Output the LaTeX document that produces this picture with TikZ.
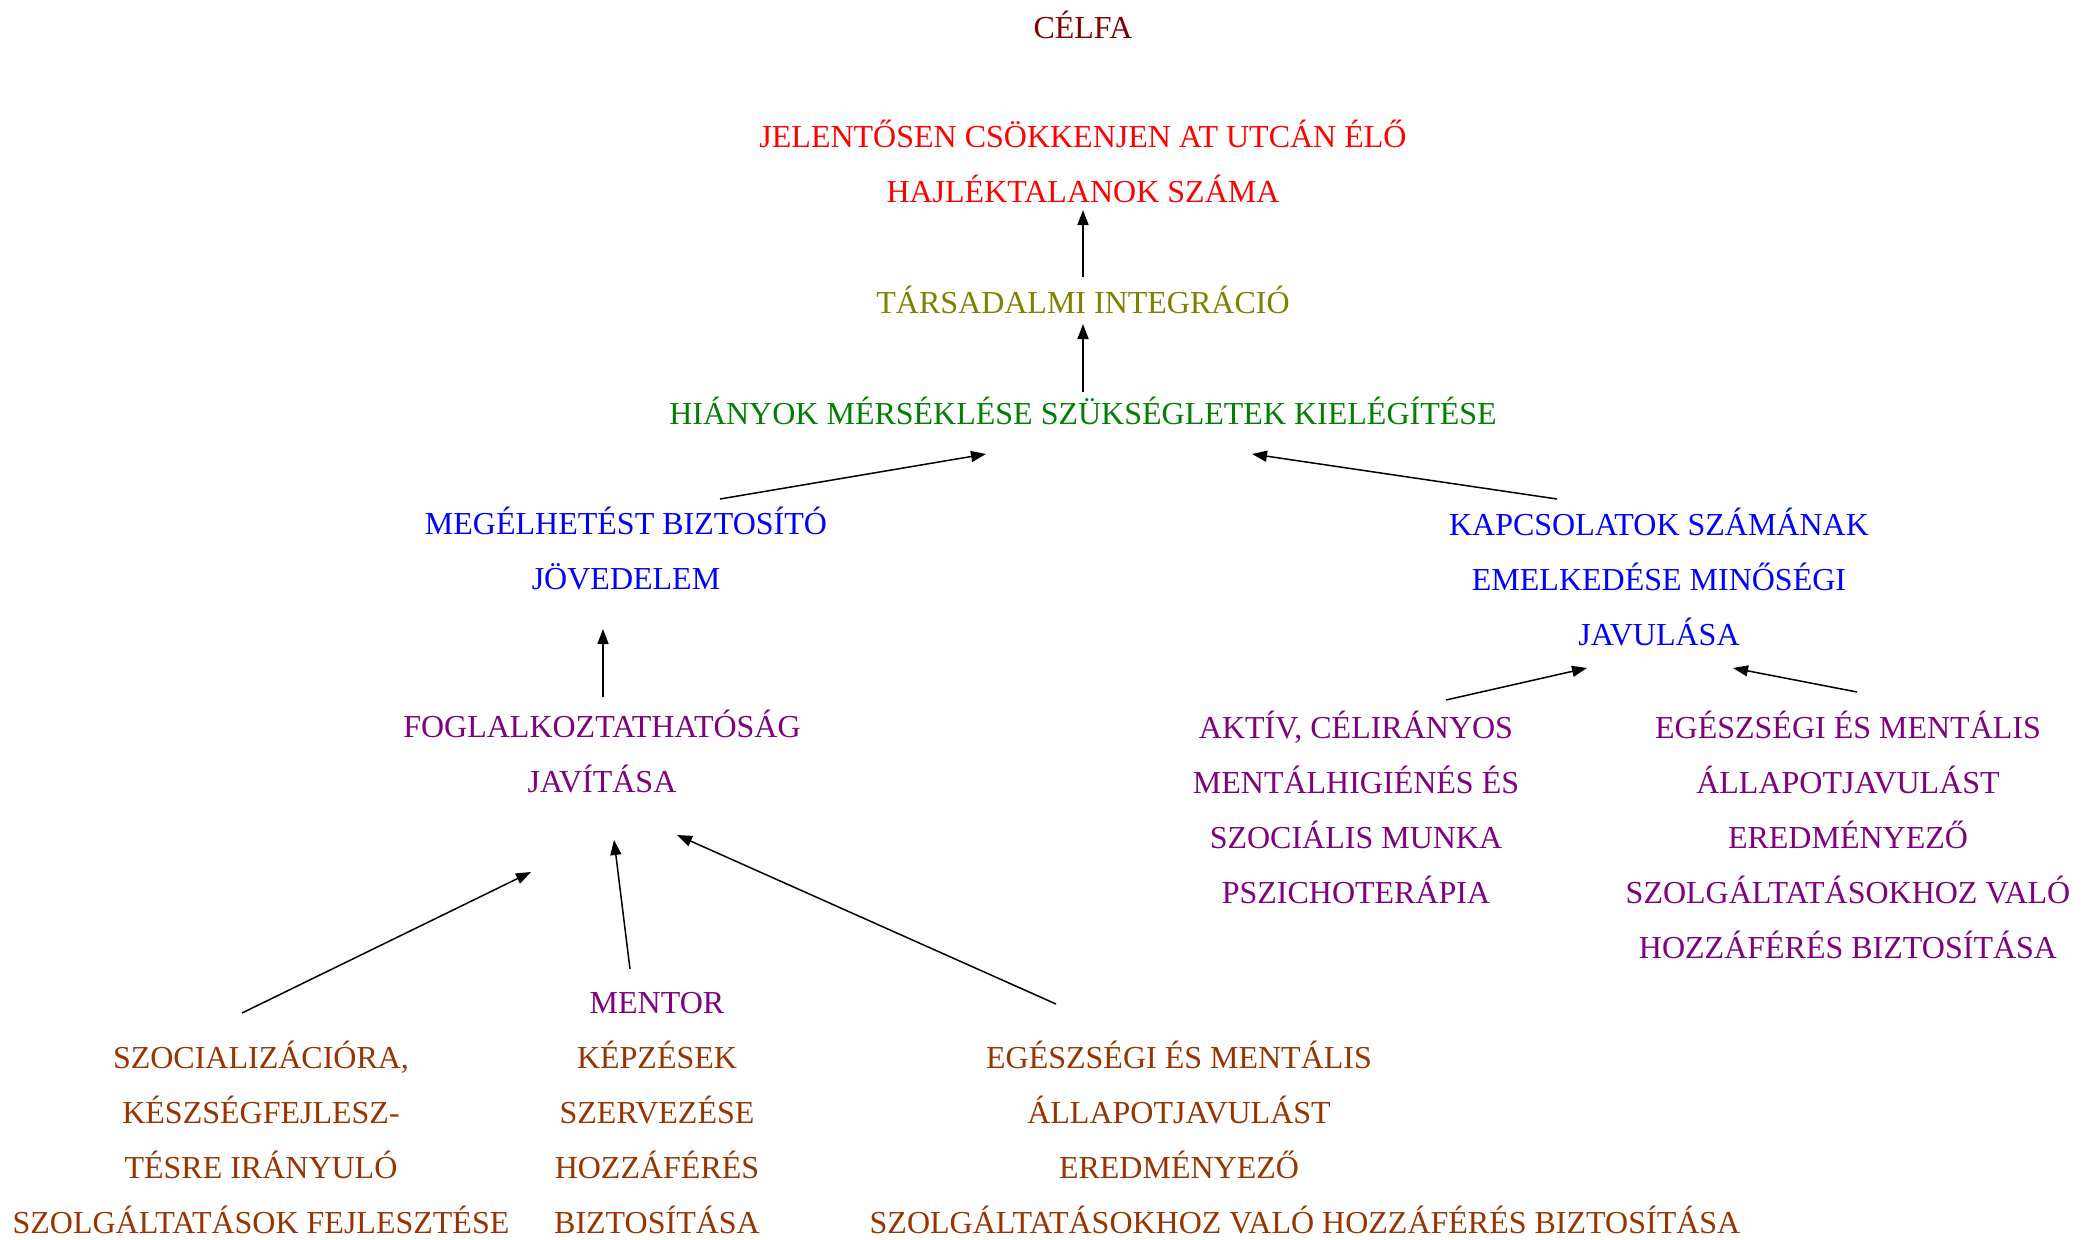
\documentclass[tikz,border=0pt]{standalone}
\usepackage{fontspec}
\setmainfont{Liberation Serif}
\usetikzlibrary{arrows.meta}
\definecolor{cmaroon}{RGB}{128,0,0}
\definecolor{cred}{RGB}{255,0,0}
\definecolor{colive}{RGB}{128,128,0}
\definecolor{cgreen}{RGB}{0,128,0}
\definecolor{cblue}{RGB}{0,0,255}
\definecolor{cpurple}{RGB}{128,0,128}
\definecolor{cbrown}{RGB}{153,51,0}
\begin{document}
\begin{tikzpicture}[x=1pt,y=-1pt,
    txt/.style={font=\fontsize{32}{55}\selectfont,inner sep=0pt,anchor=base,align=center},
    arr/.style={line width=1.5pt,-{Triangle[length=15pt,width=11pt]}}]
  \useasboundingbox (0,0) rectangle (2098,1239);
  % nodes placed at the baseline of their last line
  \node[txt,cmaroon] (celfa) at (1083,38) {CÉLFA};
  \node[txt,cred] (jel) at (1083,202) {JELENTŐSEN CSÖKKENJEN AT UTCÁN ÉLŐ\\HAJLÉKTALANOK SZÁMA};
  \node[txt,colive] (tars) at (1083,313) {TÁRSADALMI INTEGRÁCIÓ};
  \node[txt,cgreen] (hia) at (1083,424) {HIÁNYOK MÉRSÉKLÉSE SZÜKSÉGLETEK KIELÉGÍTÉSE};
  \node[txt,cblue] (meg) at (626,589) {MEGÉLHETÉST BIZTOSÍTÓ\\JÖVEDELEM};
  \node[txt,cblue] (kap) at (1659,645) {KAPCSOLATOK SZÁMÁNAK\\EMELKEDÉSE MINŐSÉGI\\JAVULÁSA};
  \node[txt,cpurple] (fog) at (602,792) {FOGLALKOZTATHATÓSÁG\\JAVÍTÁSA};
  \node[txt,cpurple] (akt) at (1356,903) {AKTÍV, CÉLIRÁNYOS\\MENTÁLHIGIÉNÉS ÉS\\SZOCIÁLIS MUNKA\\PSZICHOTERÁPIA};
  \node[txt,cpurple] (egr) at (1848,958) {EGÉSZSÉGI ÉS MENTÁLIS\\ÁLLAPOTJAVULÁST\\EREDMÉNYEZŐ\\SZOLGÁLTATÁSOKHOZ VALÓ\\HOZZÁFÉRÉS BIZTOSÍTÁSA};
  \node[txt,cpurple] (mentor) at (657,1013) {MENTOR};
  \node[txt,cbrown] (kepz) at (657,1233) {KÉPZÉSEK\\SZERVEZÉSE\\HOZZÁFÉRÉS\\BIZTOSÍTÁSA};
  \node[txt,cbrown] (szoc) at (261,1233) {SZOCIALIZÁCIÓRA,\\KÉSZSÉGFEJLESZ-\\TÉSRE IRÁNYULÓ\\SZOLGÁLTATÁSOK FEJLESZTÉSE};
  \node[txt,cbrown] (egb) at (1179,1178) {EGÉSZSÉGI ÉS MENTÁLIS\\ÁLLAPOTJAVULÁST\\EREDMÉNYEZŐ};
  \node[txt,cbrown] (egbl) at (1305,1233) {SZOLGÁLTATÁSOKHOZ VALÓ HOZZÁFÉRÉS BIZTOSÍTÁSA};
  % nyilak
  \draw[arr] ([shift={(0,-36)}]tars.base) -- ([shift={(0,8)}]jel.base);
  \draw[arr] ([shift={(0,-32)}]hia.base) -- ([shift={(0,11)}]tars.base);
  \draw[arr] ([shift={(94,-90)}]meg.base) -- ([shift={(-97,30)}]hia.base);
  \draw[arr] ([shift={(-102,-146)}]kap.base) -- ([shift={(169,30)}]hia.base);
  \draw[arr] ([shift={(1,-95)}]fog.base) -- ([shift={(-23,40)}]meg.base);
  \draw[arr] ([shift={(90,-203)}]akt.base) -- ([shift={(-72,23)}]kap.base);
  \draw[arr] ([shift={(9,-266)}]egr.base) -- ([shift={(74,23)}]kap.base);
  \draw[arr] ([shift={(-19,-220)}]szoc.base) -- ([shift={(-71,80)}]fog.base);
  \draw[arr] ([shift={(-27,-44)}]mentor.base) -- ([shift={(12,48)}]fog.base);
  \draw[arr] ([shift={(-123,-174)}]egb.base) -- ([shift={(75,43)}]fog.base);
\end{tikzpicture}
\end{document}
